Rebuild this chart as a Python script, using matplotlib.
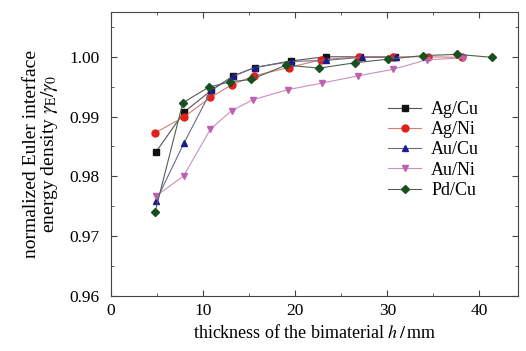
import matplotlib.pyplot as plt
from matplotlib.ticker import MultipleLocator

# thickness h (mm) and normalized energy density for each bimaterial
h_agcu = [4.9, 7.9, 10.9, 13.3, 15.6, 19.5, 23.3, 27.0, 30.8]
g_agcu = [0.9841, 0.9907, 0.9944, 0.9968, 0.9982, 0.9993, 1.0000, 1.0000, 1.0000]

h_agni = [4.8, 7.9, 10.8, 13.1, 15.5, 19.3, 22.8, 26.9, 30.6, 34.4, 38.1]
g_agni = [0.9873, 0.9899, 0.9932, 0.9953, 0.9968, 0.9982, 0.9995, 1.0000, 1.0000, 1.0000, 0.9999]

h_aucu = [4.9, 7.9, 10.9, 13.3, 15.6, 19.5, 23.3, 27.2, 30.9]
g_aucu = [0.9759, 0.9855, 0.9944, 0.9968, 0.9982, 0.9992, 0.9994, 0.9999, 0.9999]

h_auni = [4.9, 7.9, 10.8, 13.1, 15.4, 19.2, 22.9, 26.8, 30.6, 34.3, 38.2]
g_auni = [0.9767, 0.9801, 0.9879, 0.9910, 0.9928, 0.9945, 0.9956, 0.9968, 0.9979, 0.9995, 0.9998]

h_pdcu = [4.8, 7.8, 10.6, 12.9, 15.2, 19.0, 22.6, 26.5, 30.1, 33.9, 37.6, 41.4]
g_pdcu = [0.9741, 0.9923, 0.9949, 0.9958, 0.9962, 0.9986, 0.9981, 0.9990, 0.9996, 1.0002, 1.0004, 0.9999]

plt.rcParams['font.family'] = ['Liberation Serif', 'DejaVu Serif']
plt.rcParams['mathtext.fontset'] = 'stix'

fig = plt.figure(figsize=(5.26, 3.51), dpi=100)
ax = fig.add_axes([0.211, 0.157, 0.774, 0.809])

series = [
    (h_agcu, g_agcu, 's', '#111111', '#555555', 'Ag/Cu'),
    (h_agni, g_agni, 'o', '#e0201a', '#d08070', 'Ag/Ni'),
    (h_aucu, g_aucu, '^', '#1c1c90', '#6a6a90', 'Au/Cu'),
    (h_auni, g_auni, 'v', '#c060b0', '#c890c0', 'Au/Ni'),
    (h_pdcu, g_pdcu, 'D', '#1a5020', '#506050', 'Pd/Cu'),
]
for h, g, m, mc, lc, lab in series:
    ax.plot(h, g, color=lc, lw=0.8, marker=m, ms=5 if m != 'D' else 4.5,
            mfc=mc, mec=mc, label=lab)

ax.set_xlim(0, 44.2)
ax.set_ylim(0.96, 1.0075)
ax.xaxis.set_major_locator(MultipleLocator(10))
ax.xaxis.set_minor_locator(MultipleLocator(5))
ax.yaxis.set_major_locator(MultipleLocator(0.01))
ax.yaxis.set_minor_locator(MultipleLocator(0.005))
ax.yaxis.set_major_formatter(plt.FormatStrFormatter('%.2f'))
ax.tick_params(which='both', direction='in', top=True, right=True,
               labelsize=12.5, color='#444444')
ax.tick_params(axis='y', pad=8)
ax.tick_params(axis='x', pad=5)
ax.tick_params(which='major', length=4)
ax.tick_params(which='minor', length=2.5)
for s in ax.spines.values():
    s.set_color('#444444')
    s.set_linewidth(0.8)

ax.set_xlabel('thickness of the bimaterial $h\\,/\\,$mm', fontsize=13, labelpad=4)
ax.set_ylabel('normalized Euler interface\nenergy density $\\gamma_{\\rm E}/\\gamma_0$',
              fontsize=14, labelpad=7, linespacing=0.95)

ax.legend(loc='center left', bbox_to_anchor=(0.68, 0.514), frameon=False,
          fontsize=13, handlelength=1.85, labelspacing=0.18, handletextpad=0.55,
          borderpad=0, borderaxespad=0)

fig.savefig('out.png', dpi=100)
